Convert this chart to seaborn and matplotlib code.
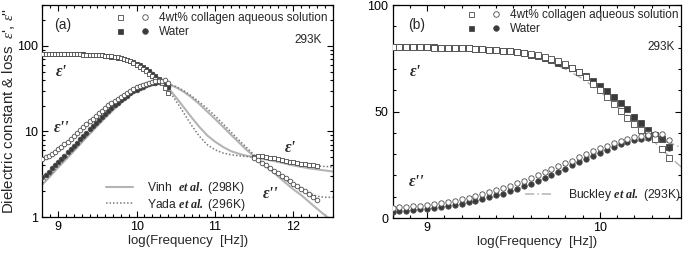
import matplotlib
matplotlib.use("Agg")
import matplotlib.pyplot as plt
import seaborn as sns
from matplotlib.lines import Line2D
from matplotlib.legend_handler import HandlerTuple
from matplotlib.ticker import MultipleLocator, LogLocator, NullFormatter, FixedLocator

sns.set_style("ticks")
plt.rcParams["font.family"] = ["Liberation Sans", "DejaVu Sans"]
plt.rcParams["mathtext.fontset"] = "custom"
plt.rcParams["mathtext.rm"] = "Liberation Serif"
plt.rcParams["mathtext.it"] = "Liberation Serif:italic"
plt.rcParams["mathtext.bf"] = "Liberation Serif:bold"
plt.rcParams["mathtext.bfit"] = "Liberation Serif:bold:italic"

# measured points, log10(f) from 8.80 to 10.40 (VNA range)
logf = [8.80, 8.84, 8.88, 8.92, 8.96, 9.00, 9.04, 9.08, 9.12, 9.16, 9.20,
        9.24, 9.28, 9.32, 9.36, 9.40, 9.44, 9.48, 9.52, 9.56, 9.60, 9.64,
        9.68, 9.72, 9.76, 9.80, 9.84, 9.88, 9.92, 9.96, 10.00, 10.04, 10.08,
        10.12, 10.16, 10.20, 10.24, 10.28, 10.32, 10.36, 10.40]
col_eps1 = [80.3, 80.3, 80.3, 80.2, 80.2, 80.1, 80.0, 80.0, 79.9, 79.8, 79.7,
            79.6, 79.4, 79.2, 79.0, 78.8, 78.6, 78.4, 78.0, 77.6, 77.0, 76.3,
            75.6, 74.7, 73.5, 72.2, 70.5, 68.5, 66.0, 63.0, 60.0, 57.0, 53.5,
            50.3, 47.0, 44.0, 41.5, 39.5, 37.0, 32.5, 28.0]
col_eps2 = [4.8, 5.0, 5.2, 5.5, 5.8, 6.2, 6.6, 7.1, 7.6, 8.2, 8.9,
            9.6, 10.4, 11.2, 12.1, 13.1, 14.1, 15.2, 16.3, 17.5, 18.8, 20.1,
            21.4, 22.8, 24.2, 25.6, 27.0, 28.5, 30.0, 31.4, 32.8, 34.0, 35.2,
            36.3, 37.2, 38.0, 38.6, 39.0, 39.3, 39.5, 36.8]
wat_eps1 = [80.5, 80.5, 80.4, 80.4, 80.3, 80.2, 80.1, 80.0, 79.9, 79.8, 79.7,
            79.6, 79.4, 79.3, 79.1, 78.9, 78.6, 78.2, 77.8, 77.3, 76.7, 76.0,
            75.1, 74.1, 73.0, 71.7, 70.2, 68.5, 66.5, 64.3, 62.0, 59.5, 56.8,
            54.0, 51.0, 47.5, 44.5, 41.5, 39.0, 37.0, 33.5]
wat_eps2 = [2.9, 3.1, 3.4, 3.7, 4.0, 4.4, 4.8, 5.2, 5.7, 6.2, 6.8,
            7.4, 8.1, 8.9, 9.7, 10.6, 11.5, 12.6, 13.7, 14.9, 16.1, 17.4,
            18.8, 20.2, 21.7, 23.2, 24.7, 26.2, 27.8, 29.3, 30.7, 32.1, 33.4,
            34.6, 35.6, 36.5, 37.2, 37.7, 38.0, 37.5, 33.0]

# THz range, collagen solution only
logf_thz = [11.50, 11.55, 11.60, 11.65, 11.70, 11.75, 11.80, 11.85, 11.90,
            11.95, 12.00, 12.05, 12.10, 12.15, 12.20, 12.25, 12.30]
thz_eps1 = [5.0, 5.2, 5.1, 5.0, 4.9, 4.85, 4.75, 4.65, 4.55,
            4.45, 4.4, 4.3, 4.2, 4.15, 4.05, 4.0, 3.95]
thz_eps2 = [4.9, 4.6, 4.3, 4.0, 3.7, 3.45, 3.25, 3.05, 2.85,
            2.65, 2.45, 2.3, 2.15, 2.0, 1.85, 1.7, 1.6]

# literature curves
logf_model = [8.8, 8.9, 9.0, 9.1, 9.2, 9.3, 9.4, 9.5, 9.6, 9.7, 9.8, 9.9,
              10.0, 10.1, 10.2, 10.3, 10.4, 10.5, 10.6, 10.7, 10.8, 10.9,
              11.0, 11.1, 11.2, 11.3, 11.4, 11.5, 11.6, 11.7, 11.8, 11.9,
              12.0, 12.1, 12.2, 12.3, 12.4, 12.5]
vinh_eps1 = [78.3, 78.3, 78.2, 78.1, 77.9, 77.6, 77.2, 76.5, 75.5, 73.8, 71.4, 67.9,
             63.1, 56.8, 49.2, 40.8, 32.6, 25.2, 19.2, 14.6, 11.3, 9.0,
             7.6, 6.6, 5.9, 5.5, 5.2, 5.0, 4.8, 4.6, 4.4, 4.2,
             4.0, 3.85, 3.7, 3.6, 3.5, 3.4]
vinh_eps2 = [2.4, 3.0, 3.8, 4.7, 5.9, 7.4, 9.3, 11.6, 14.4, 17.7, 21.5, 25.7,
             29.8, 33.5, 35.9, 36.7, 35.6, 32.9, 29.1, 25.0, 20.9, 17.1,
             14.0, 11.4, 9.2, 7.5, 6.1, 5.1, 4.2, 3.6, 3.0, 2.5,
             2.1, 1.8, 1.5, 1.25, 1.05, 0.9]
yada_eps1 = [78.8, 78.8, 78.7, 78.6, 78.4, 78.1, 77.6, 76.8, 75.7, 73.9, 71.3, 67.6,
             62.6, 56.1, 48.3, 39.8, 31.0, 23.0, 16.5, 11.8, 8.8, 7.0,
             6.1, 5.6, 5.35, 5.2, 5.1, 5.0, 4.9, 4.75, 4.6, 4.45,
             4.3, 4.15, 4.05, 3.95, 3.9, 3.85]
yada_eps2 = [2.5, 3.1, 3.9, 4.9, 6.1, 7.7, 9.6, 12.0, 14.8, 18.2, 22.0, 26.2,
             30.3, 33.9, 36.3, 37.1, 36.2, 33.5, 30.0, 26.0, 22.0, 18.5,
             15.2, 12.3, 9.9, 8.0, 6.5, 5.3, 4.4, 3.7, 3.15, 2.7,
             2.35, 2.1, 1.9, 1.75, 1.7, 1.7]

logf_buck = [8.8, 8.9, 9.0, 9.1, 9.2, 9.3, 9.4, 9.5, 9.6, 9.7, 9.8, 9.9,
             10.0, 10.1, 10.2, 10.3, 10.4, 10.5]
buck_eps1 = [80.0, 79.9, 79.8, 79.6, 79.3, 78.9, 78.2, 77.2, 75.7, 73.4, 70.0, 65.4,
             59.5, 52.5, 45.0, 37.0, 29.0, 22.0]
buck_eps2 = [2.7, 3.4, 4.2, 5.3, 6.6, 8.3, 10.3, 12.8, 15.8, 19.3, 23.1, 27.1,
             30.9, 34.0, 36.0, 36.9, 35.5, 32.0]

EDGE = "#4a4a4a"
FILL = "#3a3a3a"
LIGHT = "#b4b4b4"
DOT = "#7a7a7a"
FS = 8.5       # data legend / temperature
FS_LIT = 8.7   # literature legends


def points(ax, x, y, marker, filled, s):
    sns.scatterplot(x=x, y=y, marker=marker, s=s, ax=ax, legend=False,
                    color=FILL if filled else "white", edgecolor=EDGE,
                    linewidth=0.6, zorder=3 if filled else 4)


def style_axes(ax):
    for sp in ax.spines.values():
        sp.set_visible(True)
        sp.set_linewidth(0.9)
        sp.set_color("black")
    ax.tick_params(which="both", direction="in", top=True, right=True,
                   labelsize=9, colors="black", width=0.8)
    ax.tick_params(which="major", length=4, pad=3)
    ax.tick_params(which="minor", length=2)
    ax.set_xlabel("log(Frequency  [Hz])", fontsize=9.5, labelpad=1.5)
    ax.set_ylabel("")


def data_legend(ax, x0, y0):
    h1 = (Line2D([], [], ls="", marker="s", ms=3.6, mfc="white", mec=EDGE, mew=0.6),
          Line2D([], [], ls="", marker="o", ms=4.0, mfc="white", mec=EDGE, mew=0.6))
    h2 = (Line2D([], [], ls="", marker="s", ms=3.6, mfc=FILL, mec=EDGE, mew=0.6),
          Line2D([], [], ls="", marker="o", ms=4.0, mfc=FILL, mec=EDGE, mew=0.6))
    leg = ax.legend([h1, h2], ["4wt% collagen aqueous solution", "Water"],
                    handler_map={tuple: HandlerTuple(ndivide=None, pad=1.04)},
                    handlelength=3.2, handletextpad=0.65, labelspacing=0.15,
                    loc="upper left", bbox_to_anchor=(x0, y0), borderpad=0,
                    borderaxespad=0, frameon=False, fontsize=FS)
    return leg


fig = plt.figure(figsize=(6.85, 2.56), dpi=100)
ax_a = fig.add_axes([0.062, 0.1523, 0.4237, 0.828])
ax_b = fig.add_axes([0.573, 0.1484, 0.4212, 0.832])

# ---- panel (a): log scale
ax = ax_a
ax.set_yscale("log")
for yv in (vinh_eps1, vinh_eps2):
    sns.lineplot(x=logf_model, y=yv, ax=ax, color=LIGHT, lw=1.5, zorder=1)
for yv in (yada_eps1, yada_eps2):
    sns.lineplot(x=logf_model, y=yv, ax=ax, color=DOT, lw=1.1, ls=(0, (1, 1.3)), zorder=2)
points(ax, logf, wat_eps1, "s", True, 8)
points(ax, logf, wat_eps2, "o", True, 11)
points(ax, logf, col_eps1, "s", False, 8)
points(ax, logf, col_eps2, "o", False, 11)
points(ax, logf_thz, thz_eps1, "s", False, 9)
points(ax, logf_thz, thz_eps2, "o", False, 11)
ax.set_xlim(8.8, 12.5)
ax.set_ylim(1, 300)
ax.xaxis.set_major_locator(FixedLocator([9, 10, 11, 12]))
ax.xaxis.set_minor_locator(MultipleLocator(0.1))
ax.yaxis.set_major_locator(FixedLocator([1, 10, 100]))
ax.yaxis.set_minor_locator(LogLocator(base=10, subs=range(2, 10)))
ax.yaxis.set_minor_formatter(NullFormatter())
ax.set_yticklabels(["1", "10", "100"])
style_axes(ax)

leg1 = data_legend(ax, 0.246, 0.965)
ax.add_artist(leg1)
ax.legend([Line2D([], [], color=LIGHT, lw=1.5),
           Line2D([], [], color=DOT, lw=1.1, ls=(0, (1, 1.3)))],
          [r"Vinh  $\mathbfit{et\ al.}$ (298K)", r"Yada $\mathbfit{et\ al.}$ (296K)"],
          handlelength=2.25, handletextpad=1.1, labelspacing=0.05,
          loc="upper left", bbox_to_anchor=(0.219, 0.175), borderpad=0,
          borderaxespad=0, frameon=False, fontsize=FS_LIT)

eps_kw = dict(fontsize=11.5, fontfamily="Liberation Serif", fontweight="bold",
              fontstyle="italic", ha="center", va="center", transform=ax.transAxes)
ax.text(0.066, 0.685, "ε'", **eps_kw)
ax.text(0.066, 0.42, "ε''", **eps_kw)
ax.text(0.853, 0.325, "ε'", **eps_kw)
ax.text(0.787, 0.108, "ε''", **eps_kw)
ax.text(0.07, 0.906, "(a)", fontsize=10, ha="center", va="center", transform=ax.transAxes)
ax.text(0.962, 0.835, "293K", fontsize=FS, ha="right", va="center", transform=ax.transAxes)

# ---- panel (b): linear scale
ax = ax_b
for yv in (buck_eps1, buck_eps2):
    sns.lineplot(x=logf_buck, y=yv, ax=ax, color=LIGHT, lw=1.1,
                 ls=(0, (6, 2, 1, 2)), zorder=1)
points(ax, logf, wat_eps1, "s", True, 13)
points(ax, logf, wat_eps2, "o", True, 15)
points(ax, logf, col_eps1, "s", False, 13)
points(ax, logf, col_eps2, "o", False, 15)
ax.set_xlim(8.8, 10.47)
ax.set_ylim(0, 100)
ax.xaxis.set_major_locator(FixedLocator([9, 10]))
ax.xaxis.set_minor_locator(MultipleLocator(0.1))
ax.yaxis.set_major_locator(MultipleLocator(50))
ax.yaxis.set_minor_locator(MultipleLocator(10))
style_axes(ax)

leg2 = data_legend(ax, 0.25, 0.98)
ax.add_artist(leg2)
ax.legend([Line2D([], [], color=LIGHT, lw=1.1, ls=(0, (6, 2, 1, 2)))],
          [r"Buckley $\mathbfit{et\ al.}$ (293K)"],
          handlelength=2.4, handletextpad=1.2,
          loc="upper left", bbox_to_anchor=(0.458, 0.145), borderpad=0,
          borderaxespad=0, frameon=False, fontsize=FS_LIT)

eps_kw["transform"] = ax.transAxes
ax.text(0.078, 0.685, "ε'", **eps_kw)
ax.text(0.084, 0.17, "ε''", **eps_kw)
ax.text(0.084, 0.906, "(b)", fontsize=10, ha="center", va="center", transform=ax.transAxes)
ax.text(0.979, 0.804, "293K", fontsize=FS, ha="right", va="center", transform=ax.transAxes)

fig.text(0.012, 0.164, "Dielectric constant & loss  $\\mathit{\\varepsilon}$', $\\mathit{\\varepsilon}$''",
         rotation=90, ha="center", va="bottom", fontsize=10.8)

fig.savefig("out.png", dpi=100)
